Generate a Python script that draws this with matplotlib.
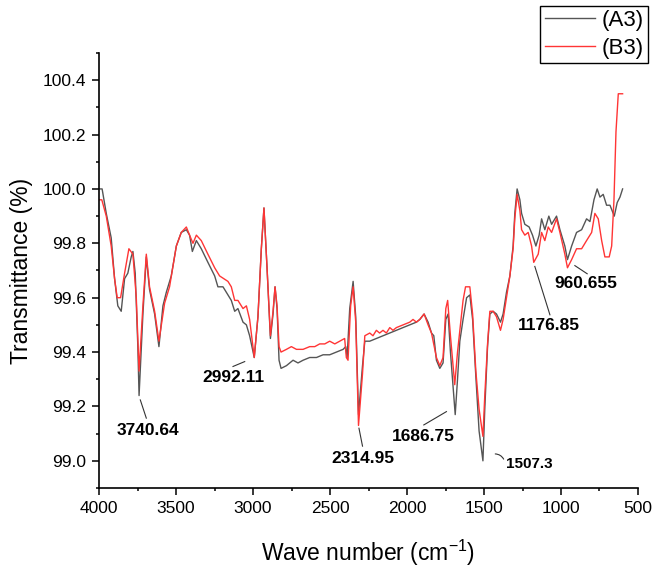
import matplotlib
matplotlib.use("Agg")
import matplotlib.pyplot as plt
from matplotlib.ticker import MultipleLocator, FormatStrFormatter

plt.rcParams['font.family'] = ['Liberation Sans', 'DejaVu Sans']
plt.rcParams['mathtext.fontset'] = 'custom'
plt.rcParams['mathtext.rm'] = 'Liberation Sans'
plt.rcParams['mathtext.it'] = 'Liberation Sans:italic'

# FTIR spectra (wavenumber in cm-1, transmittance in %)
wn_a3 = [4000, 3980, 3953, 3921, 3899, 3878, 3856, 3834, 3813, 3791, 3780, 3765, 3748, 3740,
         3715, 3693, 3672, 3639, 3611, 3585, 3563, 3531, 3498, 3466, 3433, 3412, 3394, 3368,
         3336, 3293, 3249, 3228, 3195, 3163, 3141, 3119, 3098, 3065, 3043, 3022, 2992, 2968,
         2946, 2929, 2909, 2887, 2870, 2857, 2844, 2831, 2818, 2783, 2740, 2708, 2675, 2632,
         2588, 2545, 2502, 2458, 2415, 2398, 2389, 2372, 2350, 2333, 2315, 2289, 2274, 2242,
         2199, 2156, 2112, 2069, 2026, 1982, 1939, 1917, 1889, 1863, 1841, 1826, 1809, 1787,
         1766, 1748, 1733, 1718, 1687, 1672, 1657, 1636, 1613, 1592, 1574, 1553, 1532, 1507,
         1495, 1477, 1462, 1441, 1419, 1393, 1376, 1354, 1332, 1311, 1300, 1285, 1267, 1256,
         1235, 1207, 1185, 1163, 1142, 1126, 1105, 1079, 1061, 1029, 1007, 975, 958, 931,
         899, 866, 834, 812, 786, 765, 747, 726, 704, 682, 654, 635, 617, 600]
t_a3 = [100.00, 100.00, 99.91, 99.82, 99.67, 99.57, 99.55, 99.67, 99.69, 99.75, 99.77, 99.69, 99.42, 99.24,
        99.54, 99.75, 99.63, 99.54, 99.42, 99.57, 99.62, 99.68, 99.79, 99.84, 99.85, 99.83, 99.77, 99.81,
        99.78, 99.73, 99.68, 99.64, 99.64, 99.61, 99.59, 99.55, 99.56, 99.51, 99.50, 99.46, 99.38, 99.53,
        99.78, 99.93, 99.71, 99.45, 99.54, 99.64, 99.56, 99.37, 99.34, 99.35, 99.37, 99.36, 99.37, 99.38,
        99.38, 99.39, 99.39, 99.40, 99.41, 99.42, 99.38, 99.56, 99.66, 99.53, 99.17, 99.35, 99.44, 99.44,
        99.45, 99.46, 99.47, 99.48, 99.49, 99.50, 99.51, 99.52, 99.54, 99.51, 99.47, 99.46, 99.37, 99.34,
        99.36, 99.52, 99.54, 99.40, 99.17, 99.30, 99.44, 99.52, 99.60, 99.61, 99.52, 99.31, 99.11, 99.00,
        99.19, 99.42, 99.54, 99.55, 99.54, 99.51, 99.54, 99.62, 99.68, 99.79, 99.91, 100.00, 99.96, 99.91,
        99.87, 99.86, 99.83, 99.79, 99.83, 99.89, 99.85, 99.90, 99.87, 99.90, 99.85, 99.79, 99.74, 99.79,
        99.84, 99.85, 99.89, 99.88, 99.96, 100.00, 99.97, 99.98, 99.94, 99.94, 99.90, 99.95, 99.97, 100.00]

wn_b3 = [4000, 3982, 3953, 3921, 3899, 3882, 3860, 3834, 3806, 3780, 3758, 3740, 3715, 3693,
         3672, 3639, 3611, 3574, 3542, 3498, 3466, 3433, 3412, 3390, 3368, 3336, 3293, 3249,
         3217, 3163, 3141, 3119, 3098, 3065, 3043, 3022, 2992, 2968, 2946, 2929, 2909, 2887,
         2870, 2857, 2844, 2831, 2818, 2783, 2751, 2718, 2675, 2632, 2599, 2567, 2534, 2502,
         2469, 2437, 2405, 2394, 2383, 2366, 2350, 2333, 2315, 2289, 2274, 2242, 2221, 2199,
         2178, 2156, 2134, 2112, 2091, 2069, 2026, 1982, 1961, 1939, 1917, 1889, 1863, 1841,
         1809, 1787, 1766, 1748, 1736, 1718, 1690, 1672, 1657, 1636, 1620, 1592, 1574, 1553,
         1532, 1507, 1495, 1477, 1462, 1441, 1419, 1393, 1376, 1354, 1332, 1311, 1300, 1285,
         1267, 1256, 1235, 1213, 1191, 1177, 1148, 1126, 1105, 1083, 1061, 1029, 1007, 975,
         958, 931, 899, 866, 834, 801, 780, 758, 736, 715, 687, 671, 656, 643, 628, 600]
t_b3 = [99.96, 99.96, 99.90, 99.79, 99.67, 99.60, 99.60, 99.69, 99.78, 99.76, 99.60, 99.33, 99.57, 99.76,
        99.64, 99.55, 99.44, 99.58, 99.64, 99.79, 99.84, 99.86, 99.83, 99.80, 99.83, 99.81, 99.76, 99.71,
        99.68, 99.66, 99.64, 99.59, 99.59, 99.56, 99.57, 99.52, 99.38, 99.53, 99.78, 99.93, 99.71, 99.46,
        99.55, 99.64, 99.57, 99.42, 99.40, 99.41, 99.42, 99.41, 99.41, 99.42, 99.42, 99.43, 99.43, 99.44,
        99.43, 99.44, 99.45, 99.38, 99.37, 99.57, 99.64, 99.51, 99.13, 99.32, 99.46, 99.47, 99.46, 99.48,
        99.47, 99.48, 99.47, 99.49, 99.48, 99.49, 99.50, 99.51, 99.52, 99.51, 99.52, 99.54, 99.50, 99.47,
        99.38, 99.35, 99.38, 99.56, 99.59, 99.46, 99.28, 99.40, 99.48, 99.59, 99.64, 99.64, 99.54, 99.33,
        99.19, 99.09, 99.24, 99.43, 99.55, 99.55, 99.53, 99.48, 99.52, 99.60, 99.68, 99.78, 99.89, 99.98,
        99.92, 99.85, 99.83, 99.84, 99.79, 99.73, 99.76, 99.84, 99.81, 99.86, 99.84, 99.89, 99.84, 99.76,
        99.71, 99.74, 99.78, 99.78, 99.81, 99.84, 99.91, 99.89, 99.81, 99.75, 99.75, 99.79, 99.96, 100.21, 100.35, 100.35]

peak_labels = ["3740.64", "2992.11", "2314.95", "1686.75", "1507.3", "1176.85", "960.655"]

fig = plt.figure(figsize=(6.58, 5.74), dpi=100)
ax = fig.add_axes([0.1505, 0.1498, 0.8191, 0.7579])

ax.plot(wn_a3, t_a3, color="#555555", lw=1.0, label="(A3)")
ax.plot(wn_b3, t_b3, color="#ff3535", lw=1.0, label="(B3)")

ax.set_xlim(4000, 500)
ax.set_ylim(98.9, 100.5)
ax.xaxis.set_major_locator(MultipleLocator(500))
ax.xaxis.set_minor_locator(MultipleLocator(250))
ax.yaxis.set_major_locator(MultipleLocator(0.2))
ax.yaxis.set_minor_locator(MultipleLocator(0.1))
ax.yaxis.set_major_formatter(FormatStrFormatter("%.1f"))
ax.set_yticks([99.0, 99.2, 99.4, 99.6, 99.8, 100.0, 100.2, 100.4])

for side in ("top", "right"):
    ax.spines[side].set_visible(False)
for side in ("left", "bottom"):
    ax.spines[side].set_linewidth(1.2)
ax.tick_params(which="major", direction="out", length=5, width=1.1, labelsize=12.5, pad=4)
ax.tick_params(which="minor", direction="out", length=2.5, width=1.1)

ax.set_xlabel("Wave number (cm$^{-1}$)", fontsize=16.5, labelpad=16)
ax.set_ylabel("Transmittance (%)", fontsize=16.5, labelpad=7)

# peak labels: (text pos, leader start, leader end)
label_pos = [(3685, 99.11), (3126, 99.305), (2288, 99.01), (1891, 99.09),
             (1209, 98.988), (1079, 99.497), (838, 99.651)]
leaders = [((3732, 99.224), (3693, 99.157)),
           ((3054, 99.365), (3130, 99.347)),
           ((2312, 99.12), (2289, 99.054)),
           ((1744, 99.181), (1891, 99.132)),
           ((1445, 99.025), (1365, 98.997)),
           ((1170, 99.715), (1072, 99.537)),
           ((910, 99.718), (830, 99.688))]
sizes = [12.5, 12.5, 12.5, 12.5, 11, 12.5, 12.5]

for txt, (tx, ty), (p0, p1), fs in zip(peak_labels, label_pos, leaders, sizes):
    if txt == "1507.3":
        ax.annotate("", xy=p0, xytext=p1,
                    arrowprops=dict(arrowstyle="-", color="#333333", lw=0.8,
                                    connectionstyle="arc3,rad=0.4"))
    else:
        ax.plot([p0[0], p1[0]], [p0[1], p1[1]], color="#333333", lw=0.8)
    ax.text(tx, ty, txt, fontsize=fs, fontweight="bold", ha="center", va="center")

leg = fig.legend(loc="upper right", bbox_to_anchor=(0.985, 0.99), fontsize=16,
                 frameon=True, fancybox=False, edgecolor="black", framealpha=1,
                 handlelength=2.25, borderpad=0.2, labelspacing=0.3, handletextpad=0.3,
                 borderaxespad=0)
leg.get_frame().set_linewidth(1.0)

fig.savefig("out.png", dpi=100)
